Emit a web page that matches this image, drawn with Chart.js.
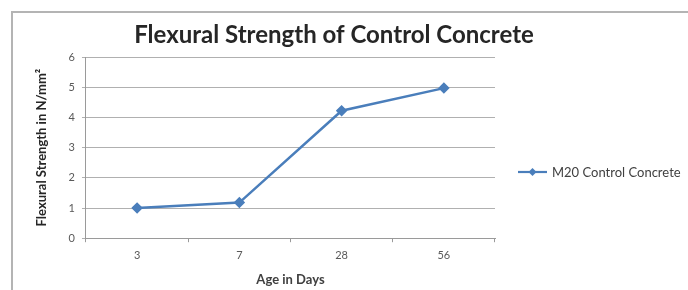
<!DOCTYPE html>
<html>
<head>
<meta charset="utf-8">
<script src="https://cdn.jsdelivr.net/npm/chart.js@4/dist/chart.umd.min.js"></script>
<style>
  html, body { margin: 0; padding: 0; background: #ffffff; }
  #wrap { position: relative; width: 688px; height: 290px; }
  #frame { position: absolute; left: 11px; top: 11px; width: 690px; height: 290px;
           border-top: 2px solid #b4b4b4; border-left: 2px solid #b4b4b4; }
  canvas { position: absolute; left: 0; top: 0; }
</style>
</head>
<body>
<div id="wrap">
  <div id="frame"></div>
  <canvas id="c" width="688" height="290"></canvas>
</div>
<script>
const chartTitle = "Flexural Strength of Control Concrete";
const categories = ["3", "7", "28", "56"];
const seriesName = "M20 Control Concrete";
const seriesValues = [1.0, 1.18, 4.22, 4.97];
const yTicks = [0, 1, 2, 3, 4, 5, 6];
const xAxisTitle = "Age in Days";
const yAxisTitle = "Flexural Strength in N/mm²";

const lineColor = "#4a7ebb";
const font = "Lato, 'Open Sans', 'Liberation Sans', sans-serif";

const overlay = {
  id: 'overlay',
  afterDraw(chart) {
    const ctx = chart.ctx;
    ctx.save();
    // title
    ctx.font = "bold 24px " + font;
    ctx.fillStyle = "#262626";
    ctx.textAlign = "center";
    ctx.textBaseline = "middle";
    ctx.fillText(chartTitle, 334, 35);
    // legend
    const ly = 172, lx = 518;
    ctx.strokeStyle = lineColor;
    ctx.lineWidth = 2.2;
    ctx.beginPath();
    ctx.moveTo(lx, ly);
    ctx.lineTo(lx + 29, ly);
    ctx.stroke();
    ctx.fillStyle = lineColor;
    ctx.beginPath();
    ctx.moveTo(lx + 14.5, ly - 4);
    ctx.lineTo(lx + 18.5, ly);
    ctx.lineTo(lx + 14.5, ly + 4);
    ctx.lineTo(lx + 10.5, ly);
    ctx.closePath();
    ctx.fill();
    ctx.font = "13px " + font;
    ctx.fillStyle = "#404040";
    ctx.textAlign = "left";
    ctx.fillText(seriesName, lx + 34, ly + 1);
    ctx.restore();
  }
};

new Chart(document.getElementById('c'), {
  type: 'line',
  data: {
    labels: categories,
    datasets: [{
      label: seriesName,
      data: seriesValues,
      borderColor: lineColor,
      backgroundColor: lineColor,
      borderWidth: 2.5,
      pointStyle: 'rectRot',
      pointRadius: 4,
      pointHoverRadius: 4,
      tension: 0
    }]
  },
  options: {
    responsive: false,
    animation: false,
    events: [],
    layout: { padding: { left: 34, right: 193, top: 57, bottom: 2 } },
    plugins: {
      legend: { display: false },
      title: { display: false },
      tooltip: { enabled: false }
    },
    scales: {
      x: {
        offset: true,
        grid: { display: true, drawOnChartArea: false, offset: true, tickLength: 4, color: '#9a9a9a' },
        border: { color: '#9a9a9a', width: 1 },
        ticks: { color: '#595959', font: { family: font, size: 11 }, padding: 7 },
        title: { display: true, text: xAxisTitle, color: '#404040', font: { family: font, size: 13, weight: 'bold' }, padding: { top: 3, bottom: 0 } }
      },
      y: {
        min: 0, max: 6,
        afterBuildTicks(scale) { scale.ticks = yTicks.map(v => ({ value: v })); },
        grid: { color: '#b0b0b0', tickLength: 4, lineWidth: 1 },
        border: { color: '#9a9a9a', width: 1 },
        ticks: { color: '#595959', font: { family: font, size: 11 }, padding: 7, callback: v => String(v) },
        title: { display: true, text: yAxisTitle, color: '#262626', font: { family: font, size: 13, weight: 'bold' }, padding: { top: 0, bottom: 12 } }
      }
    }
  },
  plugins: [overlay]
});
</script>
</body>
</html>
